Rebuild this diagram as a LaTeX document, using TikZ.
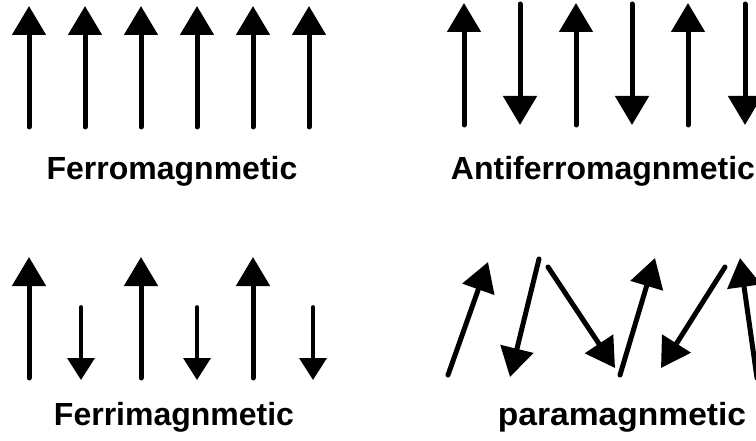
\documentclass[tikz,border=0pt]{standalone}
\usepackage{fontspec}
\usepackage{graphicx}
\setmainfont{Liberation Sans}
\usetikzlibrary{arrows.meta}

\begin{document}
\begin{tikzpicture}[
    x=1pt, y=-1pt,
    spin/.style={-{Triangle[length=29pt, width=33pt]}, line width=5pt, line cap=round},
    minor/.style={-{Triangle[length=22pt, width=27pt]}, line width=3.6pt, line cap=round},
    lbl/.style={anchor=base, inner sep=0pt, font=\bfseries\fontsize{32}{38}\selectfont}
]
\useasboundingbox (0,0) rectangle (756,441);
\clip (0,0) rectangle (756,441);

% ferromagnetic: all spins parallel
\draw[spin] (29,127) -- (29,6);
\draw[spin] (85,127) -- (85,6);
\draw[spin] (141,127) -- (141,6);
\draw[spin] (197,127) -- (197,6);
\draw[spin] (253,127) -- (253,6);
\draw[spin] (309,127) -- (309,6);
\node[lbl] (ferro) at (172,180) {Ferromagnmetic};

% antiferromagnetic: equal spins, alternating
\draw[spin] (464,125) -- (464,3);
\draw[spin] (520,4) -- (520,125);
\draw[spin] (576,125) -- (576,3);
\draw[spin] (632,4) -- (632,125);
\draw[spin] (688,125) -- (688,3);
\draw[spin] (745,4) -- (745,125);
\node[lbl] (antiferro) at (603,180) {Antiferromagnmetic};

% ferrimagnetic: unequal spins, alternating
\draw[spin] (29,378) -- (29,257);
\draw[minor] (81,307) -- (81,380);
\draw[spin] (141,378) -- (141,257);
\draw[minor] (197,307) -- (197,380);
\draw[spin] (253,378) -- (253,257);
\draw[minor] (313,307) -- (313,380);
\node[lbl] (ferri) at (174,425) {Ferrimagnmetic};

% paramagnetic: random orientation
\draw[spin] (448,375) -- (488,262);
\draw[spin] (539,259) -- (510,377);
\draw[spin] (548,267) -- (615,368);
\draw[spin] (620,375) -- (655,258);
\draw[spin] (725,267) -- (661,368);
\draw[spin] (757,378) -- (740,258);
\node[lbl] (para) at (622,425) {\scalebox{1.05}[1]{paramagnmetic}};
\end{tikzpicture}
\end{document}
